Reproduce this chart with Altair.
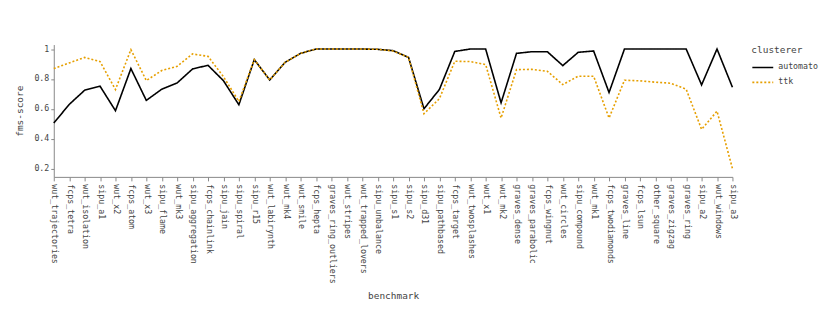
import altair as alt
import pandas as pd

benchmarks = [
    "wut_trajectories", "fcps_tetra", "wut_isolation", "sipu_a1", "wut_x2",
    "fcps_atom", "wut_x3", "sipu_flame", "wut_mk3", "sipu_aggregation",
    "fcps_chainlink", "sipu_jain", "sipu_spiral", "sipu_r15", "wut_labirynth",
    "wut_mk4", "wut_smile", "fcps_hepta", "graves_ring_outliers", "wut_stripes",
    "wut_trapped_lovers", "sipu_unbalance", "sipu_s1", "sipu_s2", "sipu_d31",
    "sipu_pathbased", "fcps_target", "wut_twosplashes", "wut_x1", "wut_mk2",
    "graves_dense", "graves_parabolic", "fcps_wingnut", "wut_circles", "sipu_compound",
    "wut_mk1", "fcps_twodiamonds", "graves_line", "fcps_lsun", "other_square",
    "graves_zigzag", "graves_ring", "sipu_a2", "wut_windows", "sipu_a3",
]

automato = [
    0.504, 0.629, 0.724, 0.751, 0.587,
    0.869, 0.656, 0.731, 0.773, 0.867,
    0.891, 0.788, 0.627, 0.929, 0.793,
    0.911, 0.971, 1.0, 1.0, 1.0,
    1.0, 0.998, 0.989, 0.944, 0.600,
    0.729, 0.984, 1.0, 1.0, 0.640,
    0.971, 0.982, 0.982, 0.889, 0.978,
    0.987, 0.709, 1.0, 1.0, 1.0,
    1.0, 1.0, 0.760, 1.0, 0.744,
]

ttk = [
    0.869, 0.907, 0.944, 0.916, 0.729,
    0.996, 0.789, 0.856, 0.884, 0.967,
    0.951, 0.815, 0.649, 0.929, 0.793,
    0.911, 0.971, 1.0, 1.0, 1.0,
    1.0, 0.998, 0.987, 0.944, 0.567,
    0.667, 0.918, 0.916, 0.896, 0.538,
    0.862, 0.864, 0.851, 0.762, 0.818,
    0.818, 0.538, 0.791, 0.787, 0.778,
    0.771, 0.731, 0.462, 0.584, 0.200,
]

clusterers = ["automato", "ttk"]
colors = ["#000000", "#E69F00"]
dashes = [[1, 0], [2, 2]]

rows = []
for name, series in zip(clusterers, [automato, ttk]):
    for b, v in zip(benchmarks, series):
        rows.append({"benchmark": b, "clusterer": name, "score": v})
df = pd.DataFrame(rows)

FONT = "DejaVu Sans Mono"

legend = alt.Legend(title="clusterer", symbolType="stroke", symbolSize=441,
                    offset=15, padding=0, rowPadding=0, titlePadding=2)

chart = alt.Chart(df).mark_line(strokeWidth=1.6).encode(
    x=alt.X(
        "benchmark:N",
        sort=benchmarks,
        scale=alt.Scale(type="point", padding=0),
        axis=alt.Axis(title="benchmark", labelAngle=90, tickSize=4, labelPadding=3,
                      titlePadding=7),
    ),
    y=alt.Y(
        "score:Q",
        scale=alt.Scale(domain=[0.144, 1.03], nice=False, zero=False),
        axis=alt.Axis(title="fms-score", values=[0.2, 0.4, 0.6, 0.8, 1.0], format="~g",
                      grid=False, tickSize=3, labelPadding=2, titlePadding=9),
    ),
    color=alt.Color(
        "clusterer:N",
        scale=alt.Scale(domain=clusterers, range=colors),
        legend=legend,
    ),
    strokeDash=alt.StrokeDash(
        "clusterer:N",
        scale=alt.Scale(domain=clusterers, range=dashes),
        legend=legend,
    ),
).properties(
    width=682,
    height=133,
    autosize=alt.AutoSizeParams(type="none"),
    padding={"left": 46, "top": 36, "right": 90, "bottom": 125},
).configure_view(
    stroke=None
).configure_axis(
    domainColor="#888888",
    tickColor="#888888",
    labelColor="#444444",
    titleColor="#444444",
    labelFont=FONT,
    titleFont=FONT,
    labelFontSize=8.3,
    titleFontSize=9.5,
    titleFontWeight="normal",
).configure_legend(
    labelFont=FONT,
    titleFont=FONT,
    labelFontSize=8.3,
    titleFontSize=9.5,
    titleFontWeight="normal",
    labelColor="#444444",
    titleColor="#444444",
    symbolStrokeWidth=1.6,
)

chart.save("out.html", embed_options={"renderer": "svg", "actions": False})
